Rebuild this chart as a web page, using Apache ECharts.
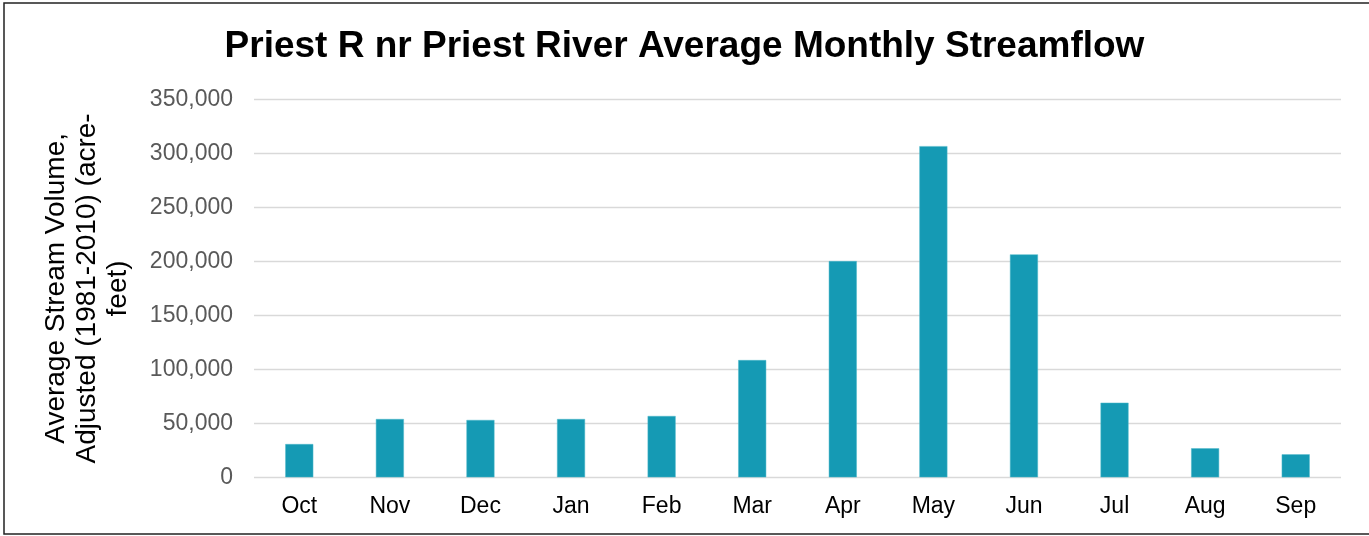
<!DOCTYPE html>
<html>
<head>
<meta charset="utf-8">
<script src="https://cdn.jsdelivr.net/npm/echarts@6/dist/echarts.min.js"></script>
<style>
html,body{margin:0;padding:0;background:#fff;}
#chart{width:1369px;height:536px;}
</style>
</head>
<body>
<div id="chart"></div>
<script>
const categories = ['Oct','Nov','Dec','Jan','Feb','Mar','Apr','May','Jun','Jul','Aug','Sep'];
const streamflow = [30800, 54000, 53100, 54000, 56800, 108600, 200300, 306800, 206500, 69100, 26900, 21300];
const yTicks = [0, 50000, 100000, 150000, 200000, 250000, 300000, 350000];

const chart = echarts.init(document.getElementById('chart'), null, {renderer:'canvas'});
const font = '"Liberation Sans", Arial, sans-serif';
chart.setOption({
  animation: false,
  title: {
    text: 'Priest R nr Priest River Average Monthly Streamflow',
    left: 'center',
    top: 23,
    textStyle: {fontFamily: font, fontSize: 37, fontWeight: 'bold', color: '#000'}
  },
  graphic: [{
    type: 'rect', silent: true,
    shape: {x: 4, y: 3, width: 1370, height: 531},
    style: {fill: 'none', stroke: '#222', lineWidth: 1.5}
  }],
  grid: {left: 254, right: 28, top: 99.5, bottom: 58.7},
  xAxis: {
    type: 'category',
    data: categories,
    axisLine: {show: false},
    axisTick: {show: false},
    axisLabel: {fontFamily: font, fontSize: 23, color: '#000', margin: 18}
  },
  yAxis: {
    type: 'value',
    min: yTicks[0],
    max: yTicks[yTicks.length - 1],
    interval: 50000,
    axisLine: {show: false},
    axisTick: {show: false},
    splitLine: {lineStyle: {color: '#d9d9d9', width: 1.3}},
    axisLabel: {
      fontFamily: font, fontSize: 23, color: '#595959', margin: 21,
      formatter: v => v.toLocaleString('en-US')
    },
    name: 'Average Stream Volume,\nAdjusted (1981-2010) (acre-\nfeet)',
    nameLocation: 'middle',
    nameRotate: 90,
    nameGap: 120,
    nameTextStyle: {fontFamily: font, fontSize: 28, color: '#000', lineHeight: 31, align: 'center'}
  },
  series: [{
    type: 'bar',
    data: streamflow,
    barWidth: 28,
    itemStyle: {color: '#159AB4', borderColor: '#4fb8cb', borderWidth: 0.5}
  }]
});
</script>
</body>
</html>
